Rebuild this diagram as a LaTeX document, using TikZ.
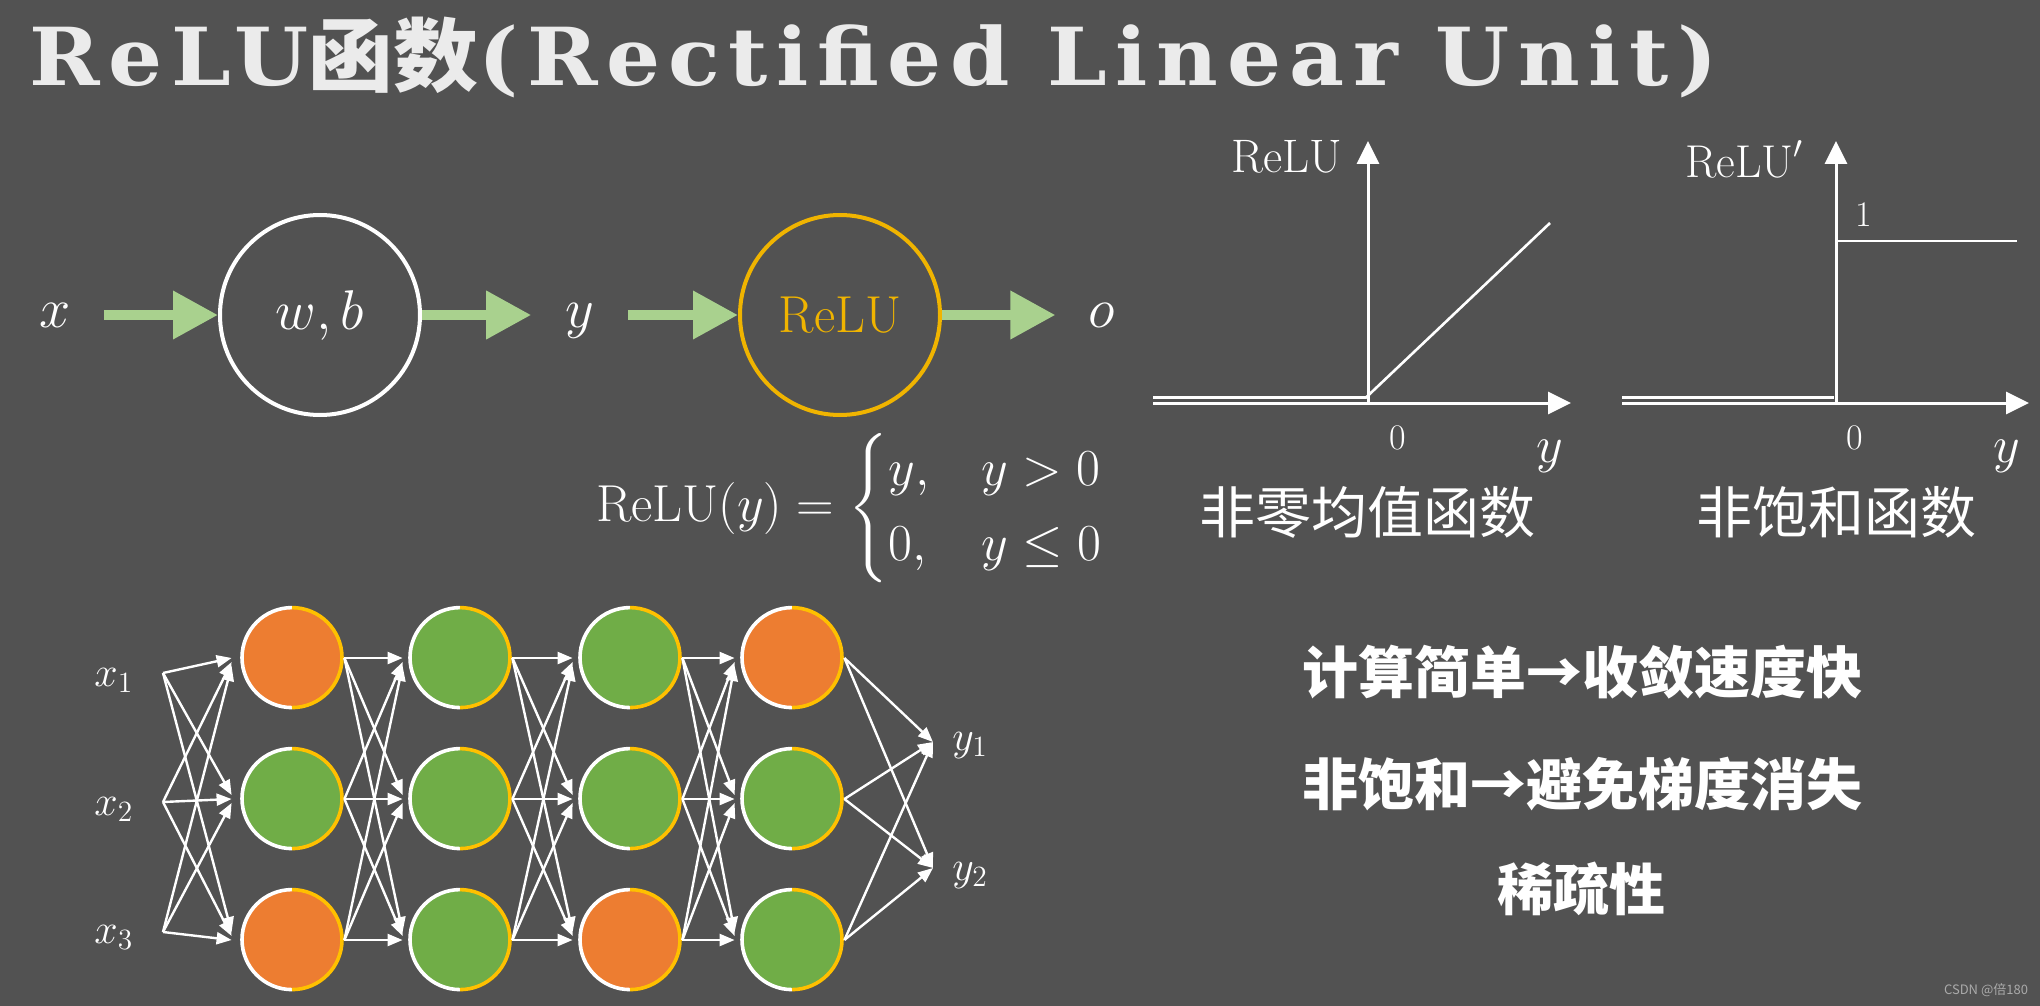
\RequirePackage{fix-cm}
\documentclass[tikz,border=0pt]{standalone}
\usepackage{amsmath}
\usepackage{fontspec}
\usetikzlibrary{arrows.meta,calc}
\newfontfamily\cjk{Noto Sans CJK SC}
\newfontfamily\titlefont{DejaVu Serif}[LetterSpace=10]
\definecolor{bg}{HTML}{525252}
\definecolor{nodeO}{HTML}{ED7D31}
\definecolor{nodeG}{HTML}{70AD47}
\definecolor{ringY}{HTML}{FFC000}
\definecolor{reluC}{HTML}{F0B400}
\definecolor{arrowG}{HTML}{A9D18E}
\definecolor{titleC}{HTML}{EBEBEB}
\definecolor{wm}{HTML}{AAAAAA}
\begin{document}
\begin{tikzpicture}[x=0.5pt,y=-0.5pt,
  lbl/.style={text=white, inner sep=0pt},
  mathbig/.style={lbl, font=\fontsize{28}{34}\selectfont},
  bigc/.style={circle, minimum size=100pt, inner sep=0pt, line width=2pt},
  garrow/.style={draw=arrowG, line width=5pt, -{Triangle[length=22.5pt,width=23pt]}},
  axisarrow/.style={draw=white, line width=1.5pt, -{Triangle[length=11.5pt,width=11pt]}},
  curveline/.style={draw=white, line width=1.3pt},
  nn/.style={circle, minimum size=50pt, inner sep=0pt},
  nodeorange/.style={nn, fill=nodeO},
  nodegreen/.style={nn, fill=nodeG},
  nnarrow/.style={draw=white, line width=1.2pt, -{Triangle[length=7.5pt,width=6pt]}},
  ringline/.style={line width=1.8pt},
  captext/.style={lbl, font=\cjk\fontsize{28}{28}\selectfont},
  boldtext/.style={lbl, font=\cjk\bfseries\fontsize{28}{28}\selectfont}
]
\fill[bg] (0,0) rectangle (2040,1006);
\useasboundingbox (0,0) rectangle (2040,1006);

% title
\node[anchor=base west, inner sep=0pt, text=titleC] (title) at (29,85)
  {\resizebox{844pt}{\height}{\titlefont\bfseries\fontsize{40}{40}\selectfont ReLU{\cjk\bfseries 函数}(Rectified Linear Unit)}};

% first row
\node[mathbig, anchor=base] (xl) at (55,327) {$x$};
\node[bigc, draw=white, text=white, font=\fontsize{28}{34}\selectfont] (wb) at (320,315) {$w,b$};
\node[mathbig, anchor=base] (yl) at (580,327) {$y$};
\node[bigc, draw=reluC, text=reluC, font=\fontsize{26}{30}\selectfont] (relu) at (840,315) {ReLU};
\node[mathbig, anchor=base] (ol) at (1102,327) {$o$};
\draw[garrow, shorten <=16.5pt] (xl.east |- wb.center) -- (wb.west);
\draw[garrow, shorten >=17pt] (wb.east) -- (yl.west |- wb.center);
\draw[garrow, shorten <=16.5pt] (yl.east |- relu.center) -- (relu.west);
\draw[garrow, shorten >=16.5pt] (relu.east) -- (ol.west |- relu.center);

% formula
\node[lbl, anchor=west, font=\fontsize{26}{31}\selectfont] (formula) at (596,508)
  {$\mathrm{ReLU}(y)=\begin{cases} y, & y>0\\ 0, & y\le 0\end{cases}$};

% graph 1
\draw[axisarrow] (1153,403) -- (1571,403);
\draw[axisarrow] (1368,403) -- (1368,141);
\draw[curveline] (1153,397.5) -- (1366,397.5) -- (1550,223);
\node[lbl, anchor=base, font=\fontsize{23.5}{28}\selectfont] (g1lab) at (1287,172) {ReLU};
\node[lbl, font=\fontsize{18}{20}\selectfont] (g1zero) at (1398,438) {0};
\node[lbl, anchor=base, font=\fontsize{26}{30}\selectfont] (g1y) at (1550,462) {$y$};
\node[captext] (cap1) at (1367,512) {非零均值函数};

% graph 2
\draw[axisarrow] (1622,403) -- (2029,403);
\draw[axisarrow] (1836,403) -- (1836,141);
\draw[curveline] (1622,397.5) -- (1834,397.5);
\draw[curveline] (1836,241) -- (2017,241);
\node[lbl, anchor=base west, font=\fontsize{23}{28}\selectfont] (g2lab) at (1685,177) {$\mathrm{ReLU}'$};
\node[lbl, font=\fontsize{18}{20}\selectfont] (g2one) at (1864,215) {1};
\node[lbl, font=\fontsize{18}{20}\selectfont] (g2zero) at (1855,438) {0};
\node[lbl, anchor=base, font=\fontsize{26}{30}\selectfont] (g2y) at (2007,462) {$y$};
\node[captext] (cap2) at (1836,512) {非饱和函数};

% right text
\node[boldtext] (p1) at (1582,672) {计算简单→收敛速度快};
\node[boldtext] (p2) at (1582,784) {非饱和→避免梯度消失};
\node[boldtext] (p3) at (1581,889) {稀疏性};

% network
\node[nodeorange] (n11) at (292,658) {};
\node[nodegreen]  (n12) at (292,799) {};
\node[nodeorange] (n13) at (292,940) {};
\node[nodegreen]  (n21) at (460,658) {};
\node[nodegreen]  (n22) at (460,799) {};
\node[nodegreen]  (n23) at (460,940) {};
\node[nodegreen]  (n31) at (630,658) {};
\node[nodegreen]  (n32) at (630,799) {};
\node[nodeorange] (n33) at (630,940) {};
\node[nodeorange] (n41) at (792,658) {};
\node[nodegreen]  (n42) at (792,799) {};
\node[nodegreen]  (n43) at (792,940) {};
\foreach \n in {n11,n12,n13,n21,n22,n23,n31,n32,n33,n41,n42,n43}{
  \draw[ringline, white] (\n.north) arc[start angle=90, end angle=270, radius=25pt];
  \draw[ringline, ringY] (\n.north) arc[start angle=90, end angle=-90, radius=25pt];
}
\node[lbl, anchor=base west, font=\fontsize{21}{25}\selectfont] (x1) at (94,686) {$x_1$};
\node[lbl, anchor=base west, font=\fontsize{21}{25}\selectfont] (x2) at (94,815) {$x_2$};
\node[lbl, anchor=base west, font=\fontsize{21}{25}\selectfont] (x3) at (94,943) {$x_3$};
\node[lbl, anchor=base west, font=\fontsize{21}{25}\selectfont] (y1) at (952,750) {$y_1$};
\node[lbl, anchor=base west, font=\fontsize{21}{25}\selectfont] (y2) at (952,880) {$y_2$};
\coordinate (s1) at (163,673);
\coordinate (s2) at (163,802);
\coordinate (s3) at (163,932);
\coordinate (t1) at (933,742);
\coordinate (t2) at (933,868);
\foreach \i in {1,2,3}{
  \foreach \j in {1,2,3}{
    \draw[nnarrow] (s\i) -- ($(n1\j.west)+(-10,{(\i-\j)*4})$);
  }
}
\foreach \c/\d in {1/2,2/3,3/4}{
  \foreach \i in {1,2,3}{
    \foreach \j in {1,2,3}{
      \draw[nnarrow] ($(n\c\i.east)+(2,0)$) -- ($(n\d\j.west)+(-7,{(\i-\j)*4})$);
    }
  }
}
\foreach \i in {1,2,3}{
  \foreach \k in {1,2}{
    \draw[nnarrow] ($(n4\i.east)+(2,0)$) -- (t\k);
  }
}

% watermark
\node[text=wm, inner sep=0pt, font=\cjk\fontsize{6.5}{7}\selectfont] (wmk) at (1986,990) {CSDN @倍180};
\end{tikzpicture}
\end{document}
